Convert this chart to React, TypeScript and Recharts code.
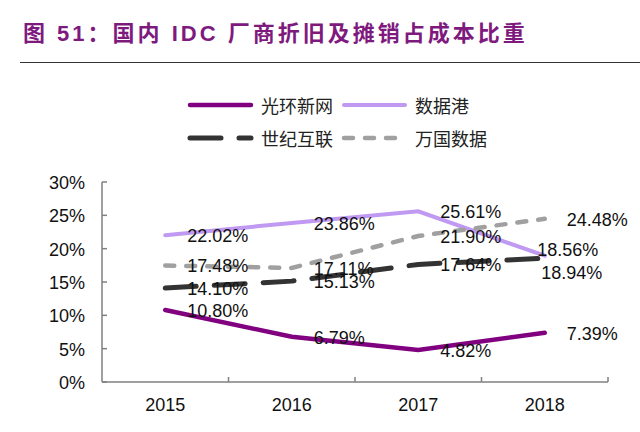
import React from 'react';
import { LineChart, Line, XAxis, YAxis, Legend, LabelList } from 'recharts';

const years = ['2015', '2016', '2017', '2018'];
const guanghuan = [10.8, 6.79, 4.82, 7.39];
const shujugang = [22.02, 23.86, 25.61, 18.94];
const shiji = [14.1, 15.13, 17.64, 18.56];
const wanguo = [17.48, 17.11, 21.9, 24.48];
const yTicks = [0, 5, 10, 15, 20, 25, 30];

const data = years.map((y, i) => ({
  year: y,
  gh: guanghuan[i],
  sjg: shujugang[i],
  sj: shiji[i],
  wg: wanguo[i],
}));

const series = [
  { key: 'gh', name: '光环新网', color: '#800080', width: 4.5, dash: undefined as string | undefined },
  { key: 'sjg', name: '数据港', color: '#BF99F2', width: 4, dash: undefined as string | undefined },
  { key: 'sj', name: '世纪互联', color: '#333333', width: 5, dash: '31 18' },
  { key: 'wg', name: '万国数据', color: '#A0A0A0', width: 4.5, dash: '9 12' },
];

// manual nudges of overlapping labels (dx, dy relative to default placement)
const labelNudge: Record<string, Record<number, [number, number]>> = {
  sj: { 3: [-29.5, -9] },
  sjg: { 3: [-25.5, 16.5] },
};

const FONT = '"Liberation Sans", Arial, sans-serif';
const CJK = '"Noto Sans CJK SC", sans-serif';

const PLOT_W = 506;
const BAND = PLOT_W / years.length;

const YTick = (props: any) => {
  const { x, y, payload } = props;
  return (
    <g>
      <line x1={x} x2={x + 5} y1={y} y2={y} stroke="#808080" strokeWidth={1.5} />
      <text x={x - 17} y={y + 1} textAnchor="end" dominantBaseline="central" fontSize={18} fontFamily={FONT} fill="#111">
        {payload.value}%
      </text>
    </g>
  );
};

const XTick = (props: any) => {
  const { x, y, payload } = props;
  return (
    <g>
      <line x1={x + BAND / 2} x2={x + BAND / 2} y1={y} y2={y - 5} stroke="#808080" strokeWidth={1.5} />
      <text x={x} y={y + 23} textAnchor="middle" dominantBaseline="central" fontSize={18} fontFamily={FONT} fill="#111">
        {payload.value}
      </text>
    </g>
  );
};

const makeLabel = (key: string) => (props: any) => {
  const { x, y, value, index } = props;
  const n = (labelNudge[key] && labelNudge[key][index]) || [0, 0];
  return (
    <text
      x={x + 22 + n[0]}
      y={y + 1 + n[1]}
      textAnchor="start"
      dominantBaseline="central"
      fontSize={18}
      fontFamily={FONT}
      fill="#111"
    >
      {Number(value).toFixed(2)}%
    </text>
  );
};

const LegendContent = () => (
  <svg width={640} height={70}>
    {series.map((s, i) => {
      const col = i % 2;
      const row = Math.floor(i / 2);
      const x0 = 188 + col * 154;
      const yy = 17 + row * 33;
      return (
        <g key={s.key}>
          <line
            x1={x0 + 2}
            x2={x0 + 63}
            y1={yy}
            y2={yy}
            stroke={s.color}
            strokeWidth={s.width}
            strokeDasharray={s.dash}
            strokeLinecap="round"
          />
          <text x={x0 + 73} y={yy} dominantBaseline="central" fontSize={18} fontFamily={CJK} fill="#222">
            {s.name}
          </text>
        </g>
      );
    })}
  </svg>
);

export default function App() {
  return (
    <div style={{ position: 'absolute', left: 0, top: 0, width: 640, height: 432, background: '#fff' }}>
      <div
        style={{
          position: 'absolute',
          left: 23,
          top: 23,
          fontFamily: FONT + ', ' + CJK,
          fontWeight: 'bold',
          fontSize: 22,
          lineHeight: '22px',
          letterSpacing: 3,
          color: '#7E1A7E',
          whiteSpace: 'nowrap',
        }}
      >
        图 51：国内 IDC 厂商折旧及摊销占成本比重
      </div>
      <div style={{ position: 'absolute', left: 20, top: 62, width: 620, height: 0, borderTop: '1.5px solid #333' }} />
      <div style={{ position: 'absolute', left: 0, top: 0 }}>
        <LineChart width={640} height={432} data={data} margin={{ top: 182, right: 32, bottom: 0, left: 0 }}>
          <XAxis
            dataKey="year"
            height={50}
            tickSize={0}
            tickMargin={0}
            tick={<XTick />}
            axisLine={{ stroke: '#808080', strokeWidth: 1.5 }}
            tickLine={false}
            interval={0}
            padding={{ left: BAND / 2, right: BAND / 2 }}
          />
          <YAxis
            width={102}
            domain={[0, 30]}
            ticks={yTicks}
            tickSize={0}
            tickMargin={0}
            tick={<YTick />}
            axisLine={{ stroke: '#808080', strokeWidth: 1.5 }}
            tickLine={false}
            interval={0}
          />
          <Legend
            layout="horizontal"
            verticalAlign="middle"
            align="center"
            wrapperStyle={{ left: 0, top: 88, width: 640, height: 70 }}
            content={<LegendContent />}
          />
          {series.map((s) => (
            <Line
              key={s.key}
              dataKey={s.key}
              name={s.name}
              type="linear"
              stroke={s.color}
              strokeWidth={s.width}
              strokeDasharray={s.dash}
              strokeLinecap="round"
              dot={false}
              activeDot={false}
              isAnimationActive={false}
            >
              <LabelList dataKey={s.key} content={makeLabel(s.key)} />
            </Line>
          ))}
        </LineChart>
      </div>
    </div>
  );
}
